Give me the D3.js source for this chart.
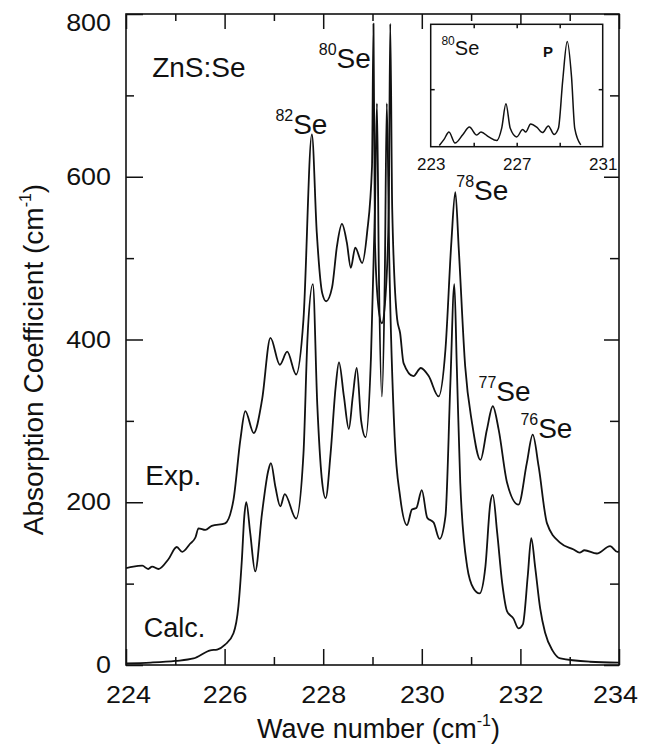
<!DOCTYPE html>
<html>
<head>
<meta charset="utf-8">
<script src="https://cdn.jsdelivr.net/npm/d3@7"></script>
<style>
  body { margin: 0; background: #fff; }
  svg { display: block; background: #fff; }
  text { font-family: "Liberation Sans", Arial, Helvetica, sans-serif; fill: #111; }
  .curve { fill: none; stroke: #111; stroke-width: 1.8; stroke-linejoin: round; }
  .axis line { stroke: #111; stroke-width: 1.5; }
</style>
</head>
<body>
<svg id="chart" width="652" height="746"></svg>
<script>
// values (wave number in cm-1, absorption in cm-1)
const expWave = [224.00, 224.15, 224.33, 224.45, 224.53, 224.66, 224.86, 225.03, 225.14, 225.30,
  225.41, 225.47, 225.61, 225.74, 226.01, 226.18, 226.32, 226.42, 226.59, 226.76,
  226.93, 227.12, 227.27, 227.45, 227.60, 227.77, 227.87, 227.98, 228.06, 228.18,
  228.28, 228.38, 228.48, 228.56, 228.65, 228.79, 228.89, 228.99, 229.02, 229.05,
  229.12, 229.19, 229.26, 229.33, 229.36, 229.40, 229.50, 229.56, 229.63, 229.83,
  229.98, 230.14, 230.34, 230.48, 230.60, 230.68, 230.75, 230.88, 231.02, 231.19,
  231.32, 231.44, 231.56, 231.73, 231.96, 232.13, 232.25, 232.37, 232.54, 232.81,
  233.08, 233.20, 233.30, 233.55, 233.82, 233.97, 234.00];
const expAbs = [119, 121, 122, 118, 121, 118, 130, 145, 139, 149,
  157, 168, 166, 171, 174, 203, 277, 312, 285, 326,
  402, 369, 385, 357, 425, 652, 531, 457, 447, 464,
  515, 542, 519, 488, 513, 494, 531, 613, 788, 520,
  440, 420, 450, 560, 788, 560, 425, 408, 371, 355,
  365, 355, 330, 388, 520, 581, 511, 367, 297, 252,
  289, 318, 289, 224, 197, 248, 283, 244, 174, 150,
  142, 138, 141, 137, 146, 139, 140];

const calcWave = [224.00, 224.50, 225.00, 225.37, 225.71, 225.85, 226.01, 226.18, 226.28, 226.35,
  226.40, 226.44, 226.52, 226.62, 226.76, 226.89, 226.94, 227.03, 227.13, 227.22,
  227.45, 227.60, 227.68, 227.79, 227.88, 227.97, 228.05, 228.15, 228.25, 228.32,
  228.42, 228.52, 228.60, 228.68, 228.77, 228.86, 228.97, 229.05, 229.09, 229.13,
  229.19, 229.25, 229.29, 229.34, 229.45, 229.56, 229.70, 229.80, 229.89, 230.00,
  230.11, 230.24, 230.36, 230.48, 230.58, 230.66, 230.71, 230.78, 230.92, 231.05,
  231.17, 231.29, 231.39, 231.44, 231.53, 231.63, 231.73, 231.86, 231.96, 232.05,
  232.15, 232.22, 232.30, 232.40, 232.50, 232.65, 232.81, 233.41, 234.00];
const calcAbs = [2, 3, 5, 8, 18, 19, 25, 39, 72, 129,
  183, 200, 162, 115, 187, 240, 248, 219, 195, 210,
  180, 260, 400, 468, 320, 230, 205, 260, 340, 372,
  330, 290, 330, 365, 300, 280, 380, 560, 690, 480,
  330, 480, 690, 500, 280, 207, 172, 191, 193, 215,
  181, 175, 155, 183, 347, 468, 367, 224, 121, 94,
  88, 121, 199, 209, 162, 101, 66, 57, 45, 50,
  110, 156, 120, 70, 40, 18, 8, 4, 3];

// inset: 80Se spectrum, arbitrary units
const insetWave = [223.40, 223.62, 223.85, 224.13, 224.50, 224.80, 225.14, 225.34, 225.70, 226.07,
  226.30, 226.50, 226.70, 227.00, 227.28, 227.42, 227.65, 227.93, 228.20, 228.47,
  228.74, 228.94, 229.14, 229.35, 229.55, 229.70, 229.98];
const insetAbs = [1, 6, 12, 3, 10, 16, 9.5, 12, 8, 5,
  15, 35, 15, 8, 14, 12, 18.5, 16, 11.5, 17,
  10, 15, 54, 86, 57, 15, 1.5];

const xMajorTicks = [224, 226, 228, 230, 232, 234];
const xMinorTicks = [225, 227, 229, 231, 233];
const yMajorTicks = [0, 200, 400, 600, 800];
const yMinorTicks = [100, 300, 500, 700];
const insetLabelTicks = [223, 227, 231];
const insetInnerTicks = [225, 227, 229];
const insetSideTicks = [47];

const svg = d3.select("#chart");
const x = d3.scaleLinear().domain([224, 234]).range([126, 619]);
const y = d3.scaleLinear().domain([0, 800]).range([665, 14]);

function stretch(sel, k) {
  sel.each(function() {
    const w = this.getComputedTextLength();
    d3.select(this).attr("textLength", w * k).attr("lengthAdjust", "spacingAndGlyphs");
  });
}

function axis(gen, pos, vals, size, labels) {
  const g = svg.append("g").attr("class", "axis").attr("transform", pos)
    .call(gen.tickValues(vals).tickSize(-size).tickPadding(labels ? labels : 0)
      .tickFormat(labels ? d3.format("d") : ""));
  g.select(".domain").remove();
  g.selectAll("text").attr("font-size", 24).attr("font-family", null).attr("fill", "#111");
  return g;
}

// ticks on all four sides, pointing inwards
const xb = axis(d3.axisBottom(x), `translate(0,${y(0)})`, xMajorTicks, 16, 21);
axis(d3.axisBottom(x), `translate(0,${y(0)})`, xMinorTicks, 8);
axis(d3.axisTop(x), `translate(0,${y(800)})`, xMajorTicks, 15);
axis(d3.axisTop(x), `translate(0,${y(800)})`, xMinorTicks, 7);
const yl = axis(d3.axisLeft(y), `translate(${x(224)},0)`, yMajorTicks, 17, 15);
axis(d3.axisLeft(y), `translate(${x(224)},0)`, yMinorTicks, 8);
axis(d3.axisRight(y), `translate(${x(234)},0)`, yMajorTicks, 15);
axis(d3.axisRight(y), `translate(${x(234)},0)`, yMinorTicks, 9);
stretch(xb.selectAll("text"), 1.12);
stretch(yl.selectAll("text"), 1.12);
yl.selectAll(".tick text").filter(d => d === 800).attr("dy", "0.68em");
xb.selectAll(".tick text").filter(d => d === 234).attr("x", -4);
xb.selectAll(".tick text").filter(d => d === 224).attr("x", 2);

svg.append("rect")
  .attr("x", x(224)).attr("y", y(800))
  .attr("width", x(234) - x(224)).attr("height", y(0) - y(800))
  .attr("fill", "none").attr("stroke", "#111").attr("stroke-width", 1.6);

svg.append("clipPath").attr("id", "clip").append("rect")
  .attr("x", x(224)).attr("y", y(800))
  .attr("width", x(234) - x(224)).attr("height", y(0) - y(800));

const line = d3.line().x(d => x(d[0])).y(d => y(d[1])).curve(d3.curveMonotoneX);
const plot = svg.append("g").attr("clip-path", "url(#clip)");
plot.append("path").attr("class", "curve").attr("d", line(d3.zip(expWave, expAbs)));
plot.append("path").attr("class", "curve").attr("d", line(d3.zip(calcWave, calcAbs)));

// text labels
function label(wx, wy, parts, size) {
  const t = svg.append("text").attr("x", x(wx)).attr("y", y(wy)).attr("font-size", size);
  let shift = 0;
  parts.forEach(p => {
    const s = t.append("tspan").text(p.t);
    if (p.sup) { s.attr("font-size", p.size || 16).attr("dy", -p.sup); shift = p.sup; }
    else if (shift) { s.attr("dy", shift); shift = 0; }
  });
  return t;
}
label(224.53, 722, [{t: "ZnS:Se"}], 28);
label(224.39, 221.5, [{t: "Exp."}], 28);
label(224.36, 35, [{t: "Calc."}], 27);
label(227.03, 652, [{t: "82", sup: 13}, {t: "Se"}], 28);
label(227.91, 734, [{t: "80", sup: 13}, {t: "Se"}], 28);
label(230.70, 572, [{t: "78", sup: 13}, {t: "Se"}], 28);
label(231.15, 324, [{t: "77", sup: 13}, {t: "Se"}], 28);
label(232.00, 279, [{t: "76", sup: 13}, {t: "Se"}], 28);

const xt = svg.append("text").attr("x", (x(224) + x(234)) / 2 + 6).attr("y", 738)
  .attr("text-anchor", "middle").attr("font-size", 27);
xt.append("tspan").text("Wave number (cm");
xt.append("tspan").text("-1").attr("font-size", 16).attr("dy", -12);
xt.append("tspan").text(")").attr("dy", 12);

const yt = svg.append("text").attr("transform", `translate(43,${(y(0) + y(800)) / 2 + 20}) rotate(-90)`)
  .attr("text-anchor", "middle").attr("font-size", 28);
yt.append("tspan").text("Absorption Coefficient (cm");
yt.append("tspan").text("-1").attr("font-size", 16).attr("dy", -12);
yt.append("tspan").text(")").attr("dy", 12);

// inset
const ix = d3.scaleLinear().domain([223, 231]).range([430.7, 602.7]);
const iy = d3.scaleLinear().domain([0, 100]).range([146.7, 24.3]);
const inset = svg.append("g");
inset.append("rect")
  .attr("x", ix(223)).attr("y", iy(100))
  .attr("width", ix(231) - ix(223)).attr("height", iy(0) - iy(100))
  .attr("fill", "#fff").attr("stroke", "#111").attr("stroke-width", 1.5);
function insetAxis(gen, pos, vals, size, labels) {
  const g = inset.append("g").attr("class", "axis").attr("transform", pos)
    .call(gen.tickValues(vals).tickSize(-size).tickPadding(labels ? 12 : 0)
      .tickFormat(labels ? d3.format("d") : ""));
  g.select(".domain").remove();
  g.selectAll("line").attr("stroke-width", 1.2);
  return g;
}
const ib = insetAxis(d3.axisBottom(ix), `translate(0,${iy(0)})`, insetLabelTicks, 0, true);
ib.selectAll("text").attr("font-size", 16).attr("font-family", null).attr("fill", "#111");
stretch(ib.selectAll("text"), 1.06);
insetAxis(d3.axisBottom(ix), `translate(0,${iy(0)})`, insetInnerTicks, 4);
insetAxis(d3.axisTop(ix), `translate(0,${iy(100)})`, insetInnerTicks, 4);
insetAxis(d3.axisLeft(iy), `translate(${ix(223)},0)`, insetSideTicks, 4);
insetAxis(d3.axisRight(iy), `translate(${ix(231)},0)`, insetSideTicks, 4);

const iline = d3.line().x(d => ix(d[0])).y(d => iy(d[1])).curve(d3.curveMonotoneX);
inset.append("path").attr("class", "curve")
  .style("stroke-width", 1.5).attr("d", iline(d3.zip(insetWave, insetAbs)));

const il = inset.append("text").attr("x", ix(223.5)).attr("y", iy(75)).attr("font-size", 20);
il.append("tspan").text("80").attr("font-size", 12).attr("dy", -10);
il.append("tspan").text("Se").attr("dy", 10);
inset.append("text").attr("x", ix(228.22)).attr("y", iy(73)).attr("font-size", 15)
  .attr("font-weight", "bold").text("P");
</script>
</body>
</html>
